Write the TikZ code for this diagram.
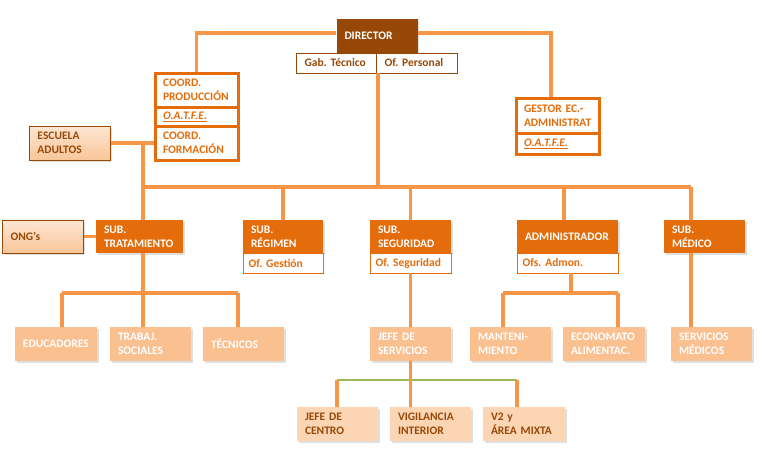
\documentclass[tikz,border=0pt]{standalone}
\usepackage{fontspec}
\setmainfont{Carlito}
\usetikzlibrary{shadows}
\definecolor{dirbrown}{HTML}{974806}
\definecolor{orgorange}{HTML}{E46C0A}
\definecolor{linkorange}{HTML}{F79646}
\definecolor{midfill}{HTML}{FAC090}
\definecolor{lowfill}{HTML}{FCD5B5}
\definecolor{textbrown}{HTML}{984807}
\definecolor{busgreen}{HTML}{9BBB59}
\definecolor{peachtop}{HTML}{FDE6D2}
\definecolor{peachbot}{HTML}{F9C599}
\frenchspacing
\begin{document}
\begin{tikzpicture}[x=1pt,y=-1pt,
  unit/.style={rectangle,inner xsep=8pt,inner ysep=2pt,text width=65pt,
               minimum height=34pt,align=left,
               font=\fontsize{11.5}{14}\selectfont\bfseries},
  softshadow/.style={drop shadow={shadow xshift=1.5pt,shadow yshift=-1.5pt,opacity=0.25}},
  head/.style={unit,fill=orgorange,text=white,softshadow},
  office/.style={unit,draw=orgorange,line width=0.8pt,minimum height=20pt,
                 inner xsep=5.5pt,text width=70pt,text=orgorange,fill=white},
  gabrow/.style={unit,draw=dirbrown,line width=0.8pt,minimum height=20pt,
                 text=textbrown,fill=white},
  coordbox/.style={unit,draw=orgorange,line width=3pt,text=orgorange,
                   text width=67pt,fill=white},
  staff/.style={unit,fill=midfill,text=white,softshadow},
  guard/.style={unit,fill=lowfill,text=textbrown,softshadow},
  outside/.style={unit,draw=textbrown,line width=0.8pt,text=textbrown,
                  top color=peachtop,bottom color=peachbot,softshadow},
  link/.style={linkorange,line width=3.5pt},
]
\useasboundingbox (0,0) rectangle (764,461);

% Direction
\node[unit,fill=dirbrown,text=white,softshadow] (dir) at (377,36) {DIRECTOR};
\node[gabrow] (gab) at (337,63) {Gab. Técnico};
\node[gabrow] (ofpers) at (417,63) {Of. Personal};

% Coordination block (left)
\node[coordbox] (coordprod) at (196.5,90) {COORD.\\PRODUCCIÓN};
\node[coordbox,minimum height=19pt] (oatfeA) at (196.5,116.5)
  {\underline{\textit{O.A.T.F.E.}}};
\node[coordbox] (coordform) at (196.5,143) {COORD.\\FORMACIÓN};

% Gestor (right)
\node[coordbox,minimum height=35pt] (gestor) at (557.5,115.5)
  {GESTOR EC.-\\ADMINISTRAT};
\node[coordbox,minimum height=21pt] (oatfeB) at (557.5,143.5)
  {\underline{\textit{O.A.T.F.E.}}};

% External units
\node[outside] (escuela) at (70,143) {ESCUELA\\ADULTOS};
\node[outside,minimum height=33pt] (ongs) at (43,236.5) {ONG’s};

% Sub-directions
\node[head,minimum height=33pt,text width=71pt] (subtrat) at (139.5,236.5)
  {SUB.\\TRATAMIENTO};
\node[head,minimum height=33pt,text width=64pt] (subreg) at (283,236.5)
  {SUB.\\RÉGIMEN};
\node[office,text width=69pt] (ofgest) at (283,263) {Of. Gestión};
\node[head,minimum height=33pt] (subseg) at (410.5,236.5) {SUB.\\SEGURIDAD};
\node[office] (ofseg) at (410.5,263) {Of. Seguridad};
\node[head,minimum height=33pt,text width=85pt] (admin) at (567.5,236.5)
  {ADMINISTRADOR};
\node[office,text width=90pt] (ofsadm) at (567.5,263) {Ofs. Admon.};
\node[head,minimum height=33pt] (submed) at (704.5,236.5) {SUB.\\MÉDICO};

% Staff level
\node[staff,text width=66pt] (educ) at (56,344) {EDUCADORES};
\node[staff] (trabaj) at (150.5,344) {TRABAJ.\\SOCIALES};
\node[staff] (tecn) at (243.5,344) {TÉCNICOS};
\node[staff] (jefeserv) at (410.5,344) {JEFE DE\\SERVICIOS};
\node[staff] (manten) at (510.5,344) {MANTENI-\\MIENTO};
\node[staff,text width=66pt] (econ) at (604,344) {ECONOMATO\\ALIMENTAC.};
\node[staff] (servmed) at (711.5,344) {SERVICIOS\\MÉDICOS};

% Security level
\node[guard] (jefecen) at (337.5,424) {JEFE DE\\CENTRO};
\node[guard] (vigil) at (430.5,424) {VIGILANCIA\\INTERIOR};
\node[guard,text width=66pt] (v2) at (524,424) {V2 y\\ÁREA MIXTA};

% Connectors: top
\coordinate (gestortop) at ([xshift=-6.5pt]gestor.north);
\draw[link] ([yshift=3pt]dir.west) -| (coordprod.north);
\draw[link] ([yshift=3pt]dir.east) -| (gestortop);

% Connectors: main bus
\coordinate (busL) at (143,187);
\coordinate (busR) at (691,187);
\coordinate (admtop) at ([xshift=-3.5pt]admin.north);
\draw[link] (gab.south east) -- (gab.south east |- busL);
\draw[link] (busL) -- (busR);
\draw[link] (escuela) -- (coordform);
\draw[link] (escuela.east -| busL) -- (busL |- subtrat.north);
\draw[link] (busL -| subreg.north) -- (subreg.north);
\draw[link] (busL -| subseg.north) -- (subseg.north);
\draw[link] (busL -| admtop) -- (admtop);
\draw[link] (busR) -- (busR |- submed.north);
\draw[link] (ongs) -- (subtrat);

% Connectors: tratamiento
\coordinate (tratL) at (62,293);
\coordinate (tratM) at (143,293);
\coordinate (tratR) at (238,293);
\draw[link] (tratM |- subtrat.south) -- (tratM);
\draw[link] (tratL) -- (tratR);
\draw[link] (tratL) -- (tratL |- educ.north);
\draw[link] (tratM) -- (tratM |- trabaj.north);
\draw[link] (tratR) -- (tratR |- tecn.north);

% Connectors: seguridad, administrador, medico
\draw[link] (ofseg) -- (jefeserv);
\coordinate (admL) at (503,293);
\coordinate (admM) at (571,293);
\coordinate (admR) at (618,293);
\draw[link] (admM |- ofsadm.south) -- (admM);
\draw[link] (admL) -- (admR);
\draw[link] (admL) -- (admL |- manten.north);
\draw[link] (admR) -- (admR |- econ.north);
\draw[link] (busR |- submed.south) -- (busR |- servmed.north);

% Connectors: security level
\coordinate (segL) at (337,380);
\coordinate (segR) at (517,380);
\draw[busgreen,line width=2.5pt] (segL) -- (segR);
\draw[link] (jefeserv.south) -- (jefeserv.south |- vigil.north);
\draw[link] (segL) -- (segL |- jefecen.north);
\draw[link] (segR) -- (segR |- v2.north);

\end{tikzpicture}
\end{document}
